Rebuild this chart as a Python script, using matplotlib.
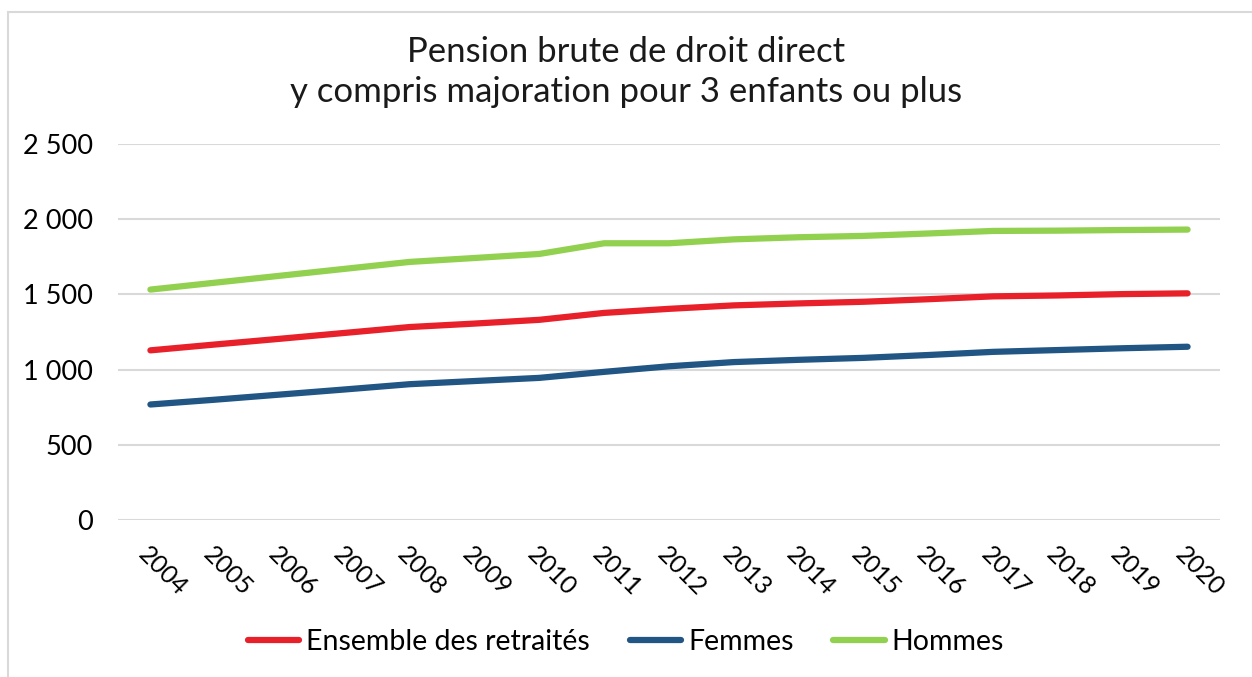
import matplotlib.pyplot as plt
from matplotlib.patches import Rectangle

annees = [str(a) for a in range(2004, 2021)]
ensemble = [1128, 1167, 1205, 1244, 1283, 1306, 1331, 1377, 1404, 1427, 1440, 1451, 1468, 1487, 1493, 1502, 1507]
femmes = [768, 800, 834, 868, 903, 924, 945, 985, 1022, 1050, 1065, 1078, 1097, 1118, 1130, 1142, 1152]
hommes = [1532, 1578, 1624, 1670, 1716, 1742, 1769, 1840, 1840, 1866, 1880, 1889, 1905, 1922, 1924, 1928, 1931]

series = [
    ("Ensemble des retraités", ensemble, "#e8202a"),
    ("Femmes", femmes, "#215584"),
    ("Hommes", hommes, "#92d050"),
]

plt.rcParams['font.family'] = ['Lato', 'DejaVu Sans']

fig = plt.figure(figsize=(12.52, 6.77), dpi=100)
ax = fig.add_axes([118 / 1252, 1 - 520 / 677, (1220 - 118) / 1252, (520 - 144) / 677])

# cadre gris autour du graphique
fig.patches.append(Rectangle((8 / 1252, -0.05), 1.2, 1 - 12 / 677 + 0.05, transform=fig.transFigure,
                             fill=False, edgecolor='#d9d9d9', linewidth=1.5, zorder=0))

x = list(range(len(annees)))
for nom, vals, couleur in series:
    ax.plot(x, vals, color=couleur, linewidth=4.5, label=nom, solid_capstyle='round')

ax.set_xlim(-0.5, len(annees) - 0.5)
ax.set_ylim(0, 2500)
ax.set_yticks(range(0, 2501, 500))
ax.set_yticklabels(['0', '500', '1 000', '1 500', '2 000', '2 500'], fontsize=19.5)
ax.set_xticks(x)
ax.set_xticklabels(annees, fontsize=18, rotation=-45, ha='left', va='top', rotation_mode='anchor')
ax.tick_params(axis='both', length=0)
ax.tick_params(axis='y', pad=18)
ax.tick_params(axis='x', pad=16)
ax.grid(axis='y', color='#d9d9d9', linewidth=1.5)
ax.set_axisbelow(True)
for s in ax.spines.values():
    s.set_visible(False)

fig.text(0.5, 1 - 72 / 677, "Pension brute de droit direct\ny compris majoration pour 3 enfants ou plus",
         ha='center', va='center', fontsize=25, linespacing=1.3, color='#1a1a1a')

fig.legend(loc='center', bbox_to_anchor=(0.5, 1 - 642 / 677), ncol=3, frameon=False,
           fontsize=20.5, handlelength=1.8, handletextpad=0.25, columnspacing=1.4)

fig.savefig('out.png', dpi=100)
